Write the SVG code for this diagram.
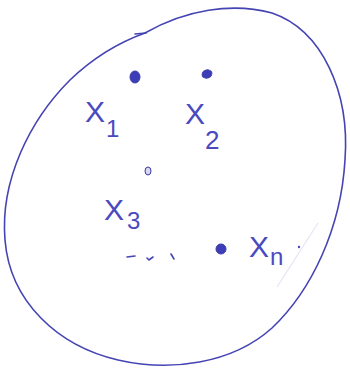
<svg xmlns="http://www.w3.org/2000/svg" width="350" height="372" viewBox="0 0 350 372">
<style>
.ink{fill:none;stroke:#4444b4;stroke-width:1.6;stroke-linecap:round}
.dot{fill:#3d3db8;stroke:#3a3aa8;stroke-width:1}
.lbl{font-family:"Liberation Sans",Arial,sans-serif;fill:#4a4ac0;font-weight:normal}
</style>
<rect width="350" height="372" fill="#ffffff"/>
<g id="set">
<path class="ink" d="M145,33 C185,10 232,2 272,13 C322,30 350,92 345,160 C341,228 312,290 272,328 C232,364 170,372 118,360 C58,346 10,302 5,240 C0,180 30,120 70,80 C95,56 120,42 145,33"/>
<path class="ink" d="M135,34 L146,33" stroke-width="1.2"/>
</g>
<g id="x1">
<ellipse class="dot" cx="135" cy="77" rx="5" ry="6"/>
<text class="lbl" x="85" y="122" font-size="30">X</text>
<text class="lbl" x="106" y="137" font-size="24">1</text>
</g>
<g id="x2">
<ellipse class="dot" cx="207" cy="74" rx="5" ry="4" transform="rotate(-20 207 74)"/>
<text class="lbl" x="185" y="124" font-size="30">X</text>
<text class="lbl" x="205" y="149" font-size="26">2</text>
</g>
<g id="x3">
<ellipse class="dot" cx="148" cy="171" rx="3" ry="4" fill="#ffffff" fill-opacity="0.2"/>
<text class="lbl" x="104" y="220" font-size="30">X</text>
<text class="lbl" x="127" y="229" font-size="24">3</text>
</g>
<g id="ellipsis">
<path class="ink" d="M127,257 L135,256 M147,258 L149,260 L153,257 M171,254 L174,259" stroke-width="1.3"/>
</g>
<g id="xn">
<ellipse class="dot" cx="221" cy="249" rx="5" ry="5"/>
<text class="lbl" x="249" y="257" font-size="30">X</text>
<text class="lbl" x="270" y="265" font-size="24">n</text>
<circle cx="299" cy="247" r="1.2" fill="#4a4ac0"/>
</g>
<path d="M318,223 L277,287" fill="none" stroke="#e2e2f5" stroke-width="1.1"/>
</svg>
